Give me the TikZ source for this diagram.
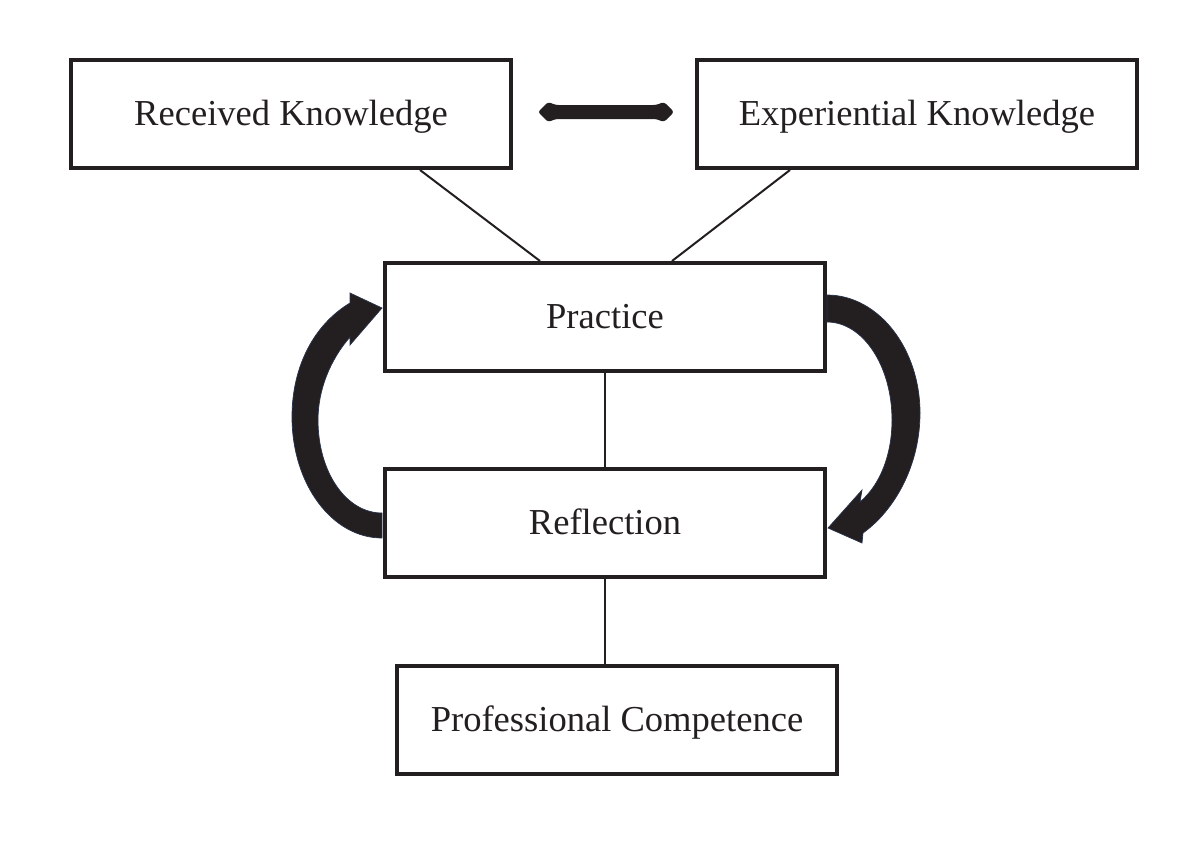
\documentclass[tikz,border=0pt]{standalone}
\usepackage{fontspec}
\setmainfont{Liberation Serif}
\usetikzlibrary{calc}
\definecolor{ink}{RGB}{35,31,32}
\definecolor{edge}{RGB}{40,50,75}
\begin{document}
\begin{tikzpicture}[x=0.02cm,y=-0.02cm,
  box/.style={draw=ink,line width=0.08cm,minimum width=8.8cm,minimum height=2.16cm,inner sep=0pt,text height=13.6pt,text depth=0pt,font=\fontsize{20.8}{25}\selectfont,text=ink},
  link/.style={draw=ink,line width=0.04cm},
  cyclearrow/.style={fill=ink,draw=edge,line width=0.4pt}]
\useasboundingbox (0,0) rectangle (1200,842);
\node[box] (rk) at (291,114) {Received Knowledge};
\node[box] (ek) at (917,114) {Experiential Knowledge};
\node[box] (pr) at (605,317) {Practice};
\node[box] (rf) at (605,523) {Reflection};
\node[box] (pc) at (617,720) {Professional Competence};
% connectors
\draw[link] ([xshift=2.58cm]rk.south) -- ([xshift=-1.3cm]pr.north);
\draw[link] ([xshift=-2.54cm]ek.south) -- ([xshift=1.34cm]pr.north);
\draw[link] (pr.south) -- (rf.north);
\draw[link] (rf.south) -- (rf.south |- pc.north);
% double-headed bar
\fill[ink,rounded corners=1.5pt] (538,112) -- (548,102) -- (556,105) -- (656,105) -- (664,102) -- (674,112) -- (664,122) -- (656,119) -- (556,119) -- (548,122) -- cycle;
% left curved arrow (Reflection -> Practice)
\filldraw[cyclearrow] (382,538) .. controls (332,538) and (292,484) .. (292,417)
  .. controls (292,365) and (315,324) .. (350,303) -- (350,293) -- (382,308) -- (350,345) -- (350,337)
  .. controls (330,360) and (318,390) .. (318,420)
  .. controls (318,472) and (346,513) .. (382,513) -- cycle;
% right curved arrow (Practice -> Reflection)
\filldraw[cyclearrow] (827,295) .. controls (878,295) and (920,348) .. (920,413)
  .. controls (920,465) and (895,510) .. (863,533) -- (862,543) -- (828,528) -- (862,490) -- (860,502)
  .. controls (880,485) and (892,455) .. (892,420)
  .. controls (892,366) and (863,322) .. (827,322) -- cycle;
\end{tikzpicture}
\end{document}
